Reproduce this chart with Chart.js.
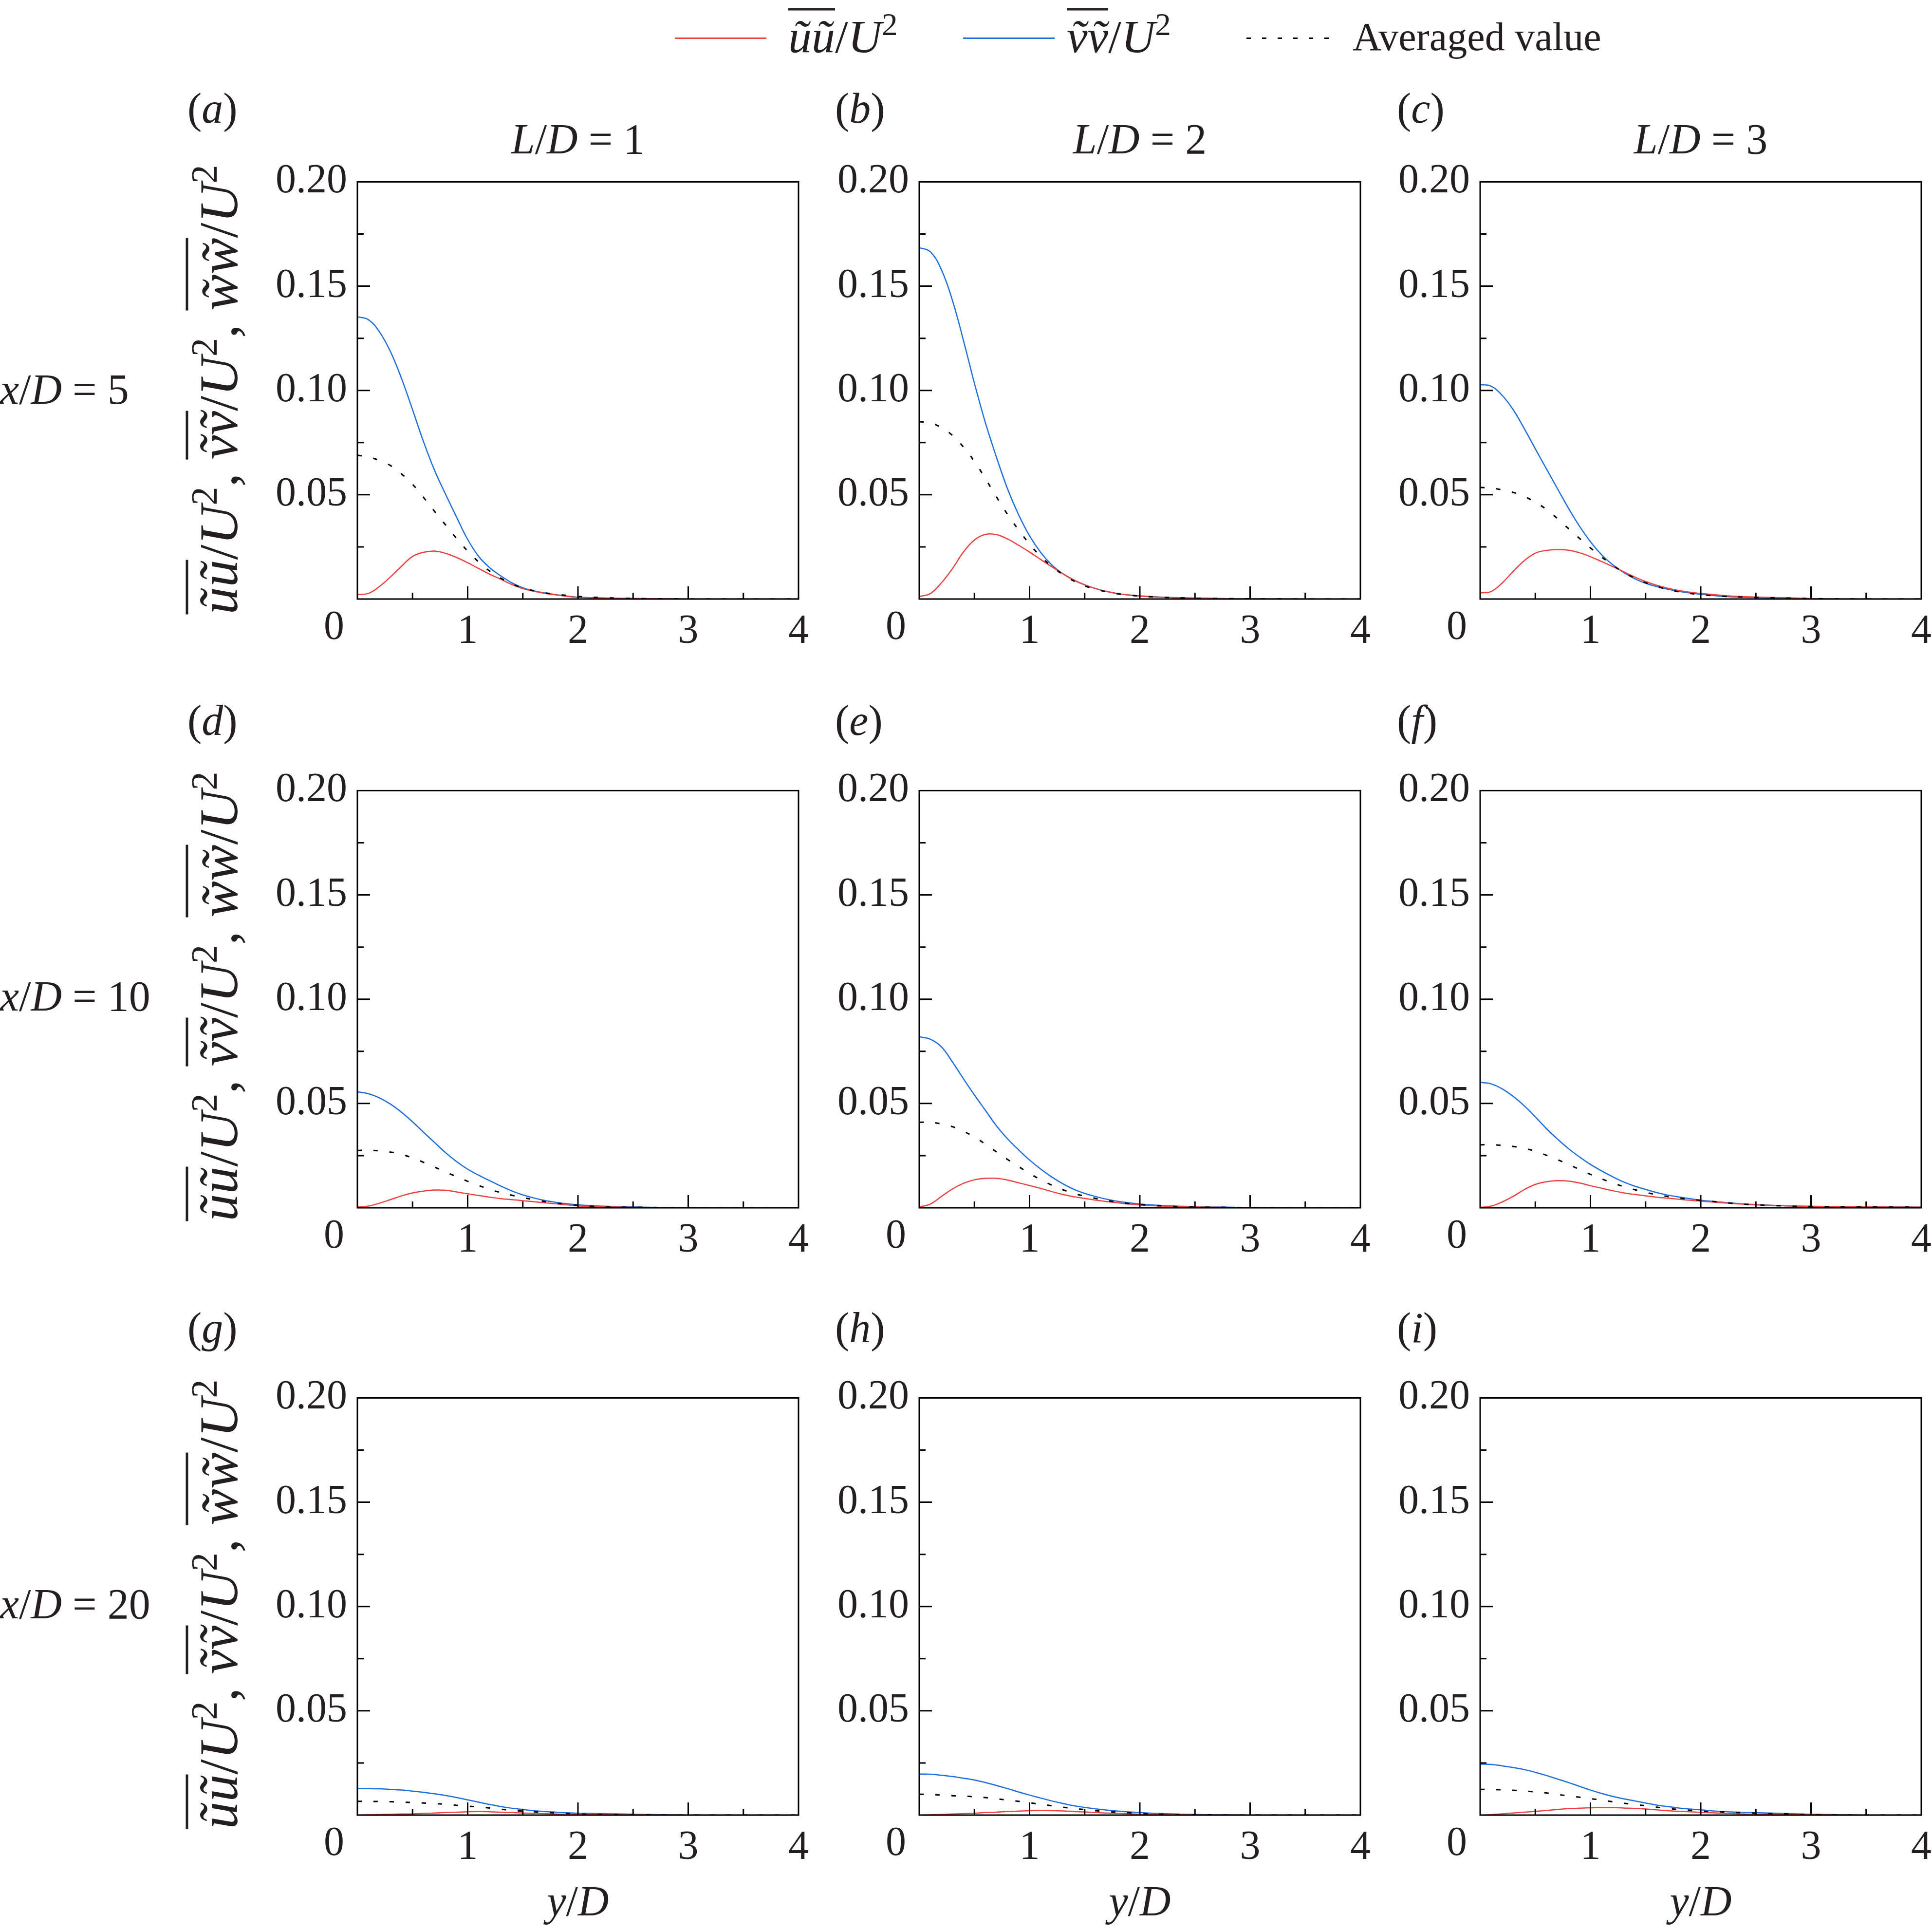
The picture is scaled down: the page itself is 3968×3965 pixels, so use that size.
<!DOCTYPE html>
<html>
<head>
<meta charset="utf-8">
<script src="https://cdn.jsdelivr.net/npm/chart.js@4.4.1/dist/chart.umd.min.js"></script>
<style>
  body { margin: 0; background: #fff; }
  #page { position: relative; width: 3968px; height: 3965px; overflow: hidden; background: #fff; }
  canvas { position: absolute; }
  .t { position: absolute; font-family: 'Liberation Serif', Tinos, 'Nimbus Roman', 'Nimbus Roman No9 L', FreeSerif, 'Noto Serif', 'DejaVu Serif', 'Times New Roman', Times, serif;
       font-size: 88px; color: #231f20; white-space: nowrap; line-height: 1; }
  .c { transform: translate(-50%, -50%); }
  .l { transform: translate(0, -50%); }
  .rot { transform: translate(-50%, -50%) rotate(-90deg); font-size: 112px; }
  .leg { font-size: 96px; }
  .avg { font-size: 82px; }
  .m i { font-style: italic; }
  .ov { display: inline-block; border-top: 5px solid #231f20; padding-top: 6px; font-style: italic; }
  .sup { font-size: 0.68em; position: relative; top: -0.55em; font-style: normal; }
  .line { position: absolute; height: 3px; }
</style>
</head>
<body>
<div id="page"></div>
<script>
// y/D positions shared by all profiles
const xs = [0, 0.1, 0.2, 0.3, 0.4, 0.5, 0.6, 0.7, 0.8, 0.9, 1.0, 1.1, 1.2, 1.3, 1.4, 1.5, 1.6, 1.7, 1.8, 1.9, 2.0, 2.2, 2.4, 2.6, 2.8, 3.0, 3.5, 4.0];

// (a) x/D=5, L/D=1
const uuA = [0.0021, 0.0027, 0.0060, 0.0106, 0.0157, 0.0204, 0.0224, 0.0230, 0.0219, 0.0199, 0.0174, 0.0146, 0.0119, 0.0095, 0.0070, 0.0050, 0.0037, 0.0027, 0.0020, 0.0013, 0.0008, 0.0005, 0.0003, 0.0002, 0.0001, 0, 0, 0];
const vvA = [0.1353, 0.1339, 0.1281, 0.1186, 0.1058, 0.0908, 0.0754, 0.0617, 0.0502, 0.0392, 0.0286, 0.0204, 0.0150, 0.0111, 0.0078, 0.0054, 0.0039, 0.0029, 0.0021, 0.0014, 0.0009, 0.0005, 0.0003, 0.0002, 0.0001, 0, 0, 0];
const avgA = [0.0690, 0.0680, 0.0665, 0.0640, 0.0600, 0.0550, 0.0487, 0.0420, 0.0355, 0.0290, 0.0230, 0.0177, 0.0134, 0.0100, 0.0073, 0.0053, 0.0040, 0.0030, 0.0023, 0.0017, 0.0012, 0.0007, 0.0004, 0.0002, 0.0001, 0, 0, 0];
// (b) x/D=5, L/D=2
const uuB = [0.0012, 0.0026, 0.0077, 0.0145, 0.0225, 0.0283, 0.0310, 0.0309, 0.0288, 0.0258, 0.0225, 0.0190, 0.0155, 0.0122, 0.0092, 0.0068, 0.0050, 0.0036, 0.0026, 0.0019, 0.0014, 0.0008, 0.0004, 0.0002, 0.0001, 0, 0, 0];
const vvB = [0.1685, 0.1665, 0.1580, 0.1433, 0.1241, 0.1035, 0.0845, 0.0680, 0.0529, 0.0405, 0.0303, 0.0224, 0.0164, 0.0122, 0.0091, 0.0068, 0.0050, 0.0036, 0.0026, 0.0019, 0.0015, 0.0009, 0.0006, 0.0004, 0.0002, 0.0001, 0, 0];
const avgB = [0.0850, 0.0845, 0.0822, 0.0785, 0.0729, 0.0660, 0.0577, 0.0490, 0.0406, 0.0332, 0.0264, 0.0205, 0.0158, 0.0118, 0.0087, 0.0063, 0.0047, 0.0034, 0.0025, 0.0019, 0.0014, 0.0008, 0.0005, 0.0003, 0.0002, 0.0001, 0, 0];
// (c) x/D=5, L/D=3
const uuC = [0.0029, 0.0036, 0.0077, 0.0133, 0.0184, 0.0220, 0.0233, 0.0237, 0.0234, 0.0222, 0.0203, 0.0180, 0.0156, 0.0131, 0.0106, 0.0084, 0.0066, 0.0052, 0.0041, 0.0033, 0.0027, 0.0017, 0.0011, 0.0008, 0.0006, 0.0002, 0, 0];
const vvC = [0.1028, 0.1020, 0.0976, 0.0907, 0.0817, 0.0720, 0.0625, 0.0530, 0.0436, 0.0350, 0.0275, 0.0213, 0.0165, 0.0128, 0.0098, 0.0076, 0.0060, 0.0047, 0.0037, 0.0029, 0.0023, 0.0013, 0.0008, 0.0005, 0.0004, 0.0002, 0, 0];
const avgC = [0.0535, 0.0532, 0.0523, 0.0511, 0.0492, 0.0464, 0.0430, 0.0386, 0.0338, 0.0291, 0.0245, 0.0202, 0.0163, 0.0128, 0.0101, 0.0078, 0.0061, 0.0046, 0.0035, 0.0027, 0.0021, 0.0013, 0.0009, 0.0006, 0.0004, 0.0002, 0, 0];
// (d) x/D=10, L/D=1
const uuD = [0.0004, 0.0008, 0.0022, 0.0039, 0.0057, 0.0071, 0.0080, 0.0085, 0.0084, 0.0076, 0.0067, 0.0059, 0.0051, 0.0044, 0.0039, 0.0034, 0.0029, 0.0024, 0.0019, 0.0014, 0.0009, 0.0005, 0.0003, 0.0002, 0.0001, 0, 0, 0];
const vvD = [0.0556, 0.0547, 0.0527, 0.0497, 0.0458, 0.0412, 0.0362, 0.0313, 0.0264, 0.0221, 0.0185, 0.0156, 0.0130, 0.0104, 0.0081, 0.0062, 0.0047, 0.0035, 0.0026, 0.0019, 0.0014, 0.0008, 0.0005, 0.0003, 0.0001, 0, 0, 0];
const avgD = [0.0275, 0.0276, 0.0273, 0.0267, 0.0256, 0.0239, 0.0218, 0.0195, 0.0172, 0.0149, 0.0127, 0.0107, 0.0088, 0.0073, 0.0060, 0.0049, 0.0039, 0.0030, 0.0023, 0.0017, 0.0012, 0.0006, 0.0003, 0.0002, 0.0001, 0, 0, 0];
// (e) x/D=10, L/D=2
const uuE = [0.0004, 0.0018, 0.0054, 0.0090, 0.0117, 0.0134, 0.0141, 0.0141, 0.0133, 0.0120, 0.0107, 0.0093, 0.0078, 0.0064, 0.0053, 0.0045, 0.0037, 0.0030, 0.0024, 0.0018, 0.0014, 0.0008, 0.0005, 0.0003, 0.0002, 0, 0, 0];
const vvE = [0.0820, 0.0808, 0.0772, 0.0700, 0.0619, 0.0541, 0.0467, 0.0393, 0.0331, 0.0278, 0.0229, 0.0186, 0.0148, 0.0116, 0.0089, 0.0069, 0.0054, 0.0041, 0.0031, 0.0024, 0.0018, 0.0011, 0.0007, 0.0004, 0.0003, 0.0001, 0, 0];
const avgE = [0.0410, 0.0410, 0.0402, 0.0389, 0.0367, 0.0339, 0.0305, 0.0268, 0.0232, 0.0198, 0.0165, 0.0135, 0.0109, 0.0087, 0.0069, 0.0056, 0.0045, 0.0035, 0.0027, 0.0020, 0.0015, 0.0009, 0.0005, 0.0003, 0.0002, 0.0001, 0, 0];
// (f) x/D=10, L/D=3
const uuF = [0.0002, 0.0008, 0.0028, 0.0055, 0.0087, 0.0112, 0.0125, 0.0130, 0.0128, 0.0119, 0.0106, 0.0094, 0.0082, 0.0072, 0.0064, 0.0057, 0.0051, 0.0046, 0.0041, 0.0036, 0.0032, 0.0024, 0.0017, 0.0012, 0.0009, 0.0007, 0.0004, 0.0003];
const vvF = [0.0601, 0.0594, 0.0570, 0.0534, 0.0489, 0.0436, 0.0380, 0.0330, 0.0284, 0.0244, 0.0208, 0.0177, 0.0149, 0.0124, 0.0104, 0.0088, 0.0073, 0.0061, 0.0052, 0.0044, 0.0036, 0.0026, 0.0018, 0.0013, 0.0009, 0.0007, 0.0005, 0.0003];
const avgF = [0.0302, 0.0302, 0.0299, 0.0294, 0.0285, 0.0271, 0.0252, 0.0231, 0.0208, 0.0184, 0.0160, 0.0139, 0.0119, 0.0102, 0.0087, 0.0074, 0.0063, 0.0054, 0.0047, 0.0041, 0.0036, 0.0026, 0.0017, 0.0012, 0.0008, 0.0006, 0.0004, 0.0003];
// (g) x/D=20, L/D=1
const uuG = [0, 0.0001, 0.0003, 0.0004, 0.0005, 0.0006, 0.0008, 0.0010, 0.0012, 0.0014, 0.0016, 0.0017, 0.0016, 0.0014, 0.0012, 0.0010, 0.0008, 0.0007, 0.0005, 0.0004, 0.0003, 0.0002, 0.0001, 0.0001, 0, 0, 0, 0];
const vvG = [0.0127, 0.0127, 0.0126, 0.0123, 0.0120, 0.0115, 0.0109, 0.0102, 0.0094, 0.0084, 0.0073, 0.0062, 0.0051, 0.0041, 0.0033, 0.0027, 0.0021, 0.0017, 0.0014, 0.0011, 0.0009, 0.0007, 0.0005, 0.0003, 0.0002, 0, 0, 0];
const avgG = [0.0066, 0.0066, 0.0065, 0.0064, 0.0062, 0.0060, 0.0058, 0.0055, 0.0052, 0.0047, 0.0043, 0.0039, 0.0034, 0.0028, 0.0023, 0.0019, 0.0016, 0.0013, 0.0010, 0.0008, 0.0005, 0.0003, 0.0002, 0.0001, 0, 0, 0, 0];
// (h) x/D=20, L/D=2
const uuH = [0, 0.0001, 0.0003, 0.0005, 0.0007, 0.0009, 0.0012, 0.0014, 0.0017, 0.0019, 0.0021, 0.0022, 0.0021, 0.0020, 0.0017, 0.0015, 0.0012, 0.0010, 0.0008, 0.0006, 0.0004, 0.0002, 0.0001, 0, 0, 0, 0, 0];
const vvH = [0.0197, 0.0196, 0.0191, 0.0185, 0.0177, 0.0168, 0.0156, 0.0142, 0.0127, 0.0111, 0.0096, 0.0082, 0.0068, 0.0056, 0.0045, 0.0037, 0.0030, 0.0024, 0.0019, 0.0015, 0.0012, 0.0007, 0.0004, 0.0002, 0.0001, 0, 0, 0];
const avgH = [0.0100, 0.0099, 0.0096, 0.0093, 0.0091, 0.0088, 0.0084, 0.0078, 0.0072, 0.0066, 0.0059, 0.0052, 0.0045, 0.0038, 0.0032, 0.0026, 0.0021, 0.0017, 0.0014, 0.0011, 0.0008, 0.0004, 0.0002, 0.0001, 0, 0, 0, 0];
// (i) x/D=20, L/D=3
const uuI = [0, 0.0002, 0.0006, 0.0010, 0.0014, 0.0018, 0.0022, 0.0027, 0.0031, 0.0033, 0.0035, 0.0036, 0.0036, 0.0034, 0.0032, 0.0029, 0.0025, 0.0021, 0.0018, 0.0016, 0.0013, 0.0009, 0.0005, 0.0004, 0.0003, 0.0002, 0, 0];
const vvI = [0.0244, 0.0243, 0.0236, 0.0228, 0.0218, 0.0205, 0.0190, 0.0173, 0.0156, 0.0138, 0.0120, 0.0104, 0.0090, 0.0078, 0.0068, 0.0058, 0.0048, 0.0041, 0.0034, 0.0029, 0.0025, 0.0017, 0.0013, 0.0010, 0.0007, 0.0004, 0, 0];
const avgI = [0.0123, 0.0123, 0.0121, 0.0119, 0.0115, 0.0111, 0.0106, 0.0099, 0.0092, 0.0086, 0.0079, 0.0072, 0.0064, 0.0057, 0.0051, 0.0045, 0.0038, 0.0032, 0.0027, 0.0023, 0.0019, 0.0015, 0.0011, 0.0008, 0.0005, 0.0002, 0, 0];

const panelLetters = ['a', 'b', 'c', 'd', 'e', 'f', 'g', 'h', 'i'];
const spacings = ['1', '2', '3'];          // L/D
const stations = ['5', '10', '20'];        // x/D
const yTicks = [0, 0.05, 0.10, 0.15, 0.20];
const xTicks = [0, 1, 2, 3, 4];

const panels = [
  [uuA, vvA, avgA], [uuB, vvB, avgB], [uuC, vvC, avgC],
  [uuD, vvD, avgD], [uuE, vvE, avgE], [uuF, vvF, avgF],
  [uuG, vvG, avgG], [uuH, vvH, avgH], [uuI, vvI, avgI]
];

const RED = '#ee4040';
const BLUE = '#1b6ee0';
const INK = '#231f20';
const FONT = "'Liberation Serif', Tinos, 'Nimbus Roman', 'Nimbus Roman No9 L', FreeSerif, 'Noto Serif', 'DejaVu Serif', 'Times New Roman', Times, serif";
const TICK_SIZE = 84;

// layout of the plot boxes (page pixels)
const colLeft = [734, 1888, 3040];
const rowTop = [362, 1612, 2859];
const plotW = 906, plotH = 868;
const padL = 200, padT = 60, padR = 60, padB = 140;

const page = document.getElementById('page');

function addText(html, cls, x, y) {
  const d = document.createElement('div');
  d.className = 't ' + cls;
  d.style.left = x + 'px';
  d.style.top = y + 'px';
  d.innerHTML = html;
  page.appendChild(d);
  return d;
}

function pts(arr) {
  return xs.map((x, i) => ({ x: x, y: arr[i] }));
}

// inward ticks, closed frame and the shared "0" at the corner
const frameTicks = {
  id: 'frameTicks',
  afterDraw(chart) {
    const ctx = chart.ctx;
    const a = chart.chartArea;
    const x = chart.scales.x, y = chart.scales.y;
    ctx.save();
    ctx.strokeStyle = '#000';
    ctx.lineWidth = 3;
    ctx.strokeRect(a.left, a.top, a.right - a.left, a.bottom - a.top);
    ctx.beginPath();
    for (let k = 1; k < 8; k++) {
      const py = y.getPixelForValue(k * 0.025);
      const len = k % 2 === 0 ? 26 : 13;
      ctx.moveTo(a.left, py);
      ctx.lineTo(a.left + len, py);
    }
    for (let k = 1; k < 8; k++) {
      const px = x.getPixelForValue(k * 0.5);
      const len = k % 2 === 0 ? 26 : 13;
      ctx.moveTo(px, a.bottom);
      ctx.lineTo(px, a.bottom - len);
    }
    ctx.stroke();
    ctx.fillStyle = INK;
    ctx.font = TICK_SIZE + 'px ' + FONT;
    ctx.textAlign = 'center';
    ctx.textBaseline = 'top';
    ctx.fillText('0', a.left - 48, a.bottom + 18);
    ctx.restore();
  }
};

function makePanel(idx) {
  const r = Math.floor(idx / 3), c = idx % 3;
  const cv = document.createElement('canvas');
  const w = padL + plotW + padR, h = padT + plotH + padB;
  cv.width = w; cv.height = h;
  cv.style.width = w + 'px'; cv.style.height = h + 'px';
  cv.style.left = (colLeft[c] - padL) + 'px';
  cv.style.top = (rowTop[r] - padT) + 'px';
  page.appendChild(cv);

  const set = panels[idx];
  new Chart(cv, {
    type: 'line',
    data: {
      datasets: [
        { label: 'avg', data: pts(set[2]), borderColor: '#000', borderWidth: 3, borderDash: [9, 24] },
        { label: 'uu', data: pts(set[0]), borderColor: RED, borderWidth: 2.5 },
        { label: 'vv', data: pts(set[1]), borderColor: BLUE, borderWidth: 2.5 }
      ]
    },
    options: {
      responsive: false,
      animation: false,
      devicePixelRatio: 1,
      layout: { padding: { top: padT, right: padR, left: 0, bottom: 0 } },
      elements: { point: { radius: 0 }, line: { tension: 0.4 } },
      plugins: { legend: { display: false }, tooltip: { enabled: false } },
      scales: {
        x: {
          type: 'linear', min: 0, max: 4,
          grid: { display: false, drawTicks: false },
          border: { display: false },
          afterBuildTicks: (s) => { s.ticks = xTicks.map(v => ({ value: v })); },
          afterFit: (s) => { s.height = padB; },
          ticks: {
            padding: 18, color: INK, font: { family: FONT, size: TICK_SIZE }, maxRotation: 0,
            callback: (v) => v === 0 ? '' : String(v)
          }
        },
        y: {
          type: 'linear', min: 0, max: 0.2,
          grid: { display: false, drawTicks: false },
          border: { display: false },
          afterBuildTicks: (s) => { s.ticks = yTicks.map(v => ({ value: v })); },
          afterFit: (s) => { s.width = padL; },
          ticks: {
            padding: 21, color: INK, font: { family: FONT, size: TICK_SIZE },
            callback: (v) => v === 0 ? '' : v.toFixed(2)
          }
        }
      }
    },
    plugins: [frameTicks]
  });
}

for (let i = 0; i < 9; i++) makePanel(i);

// legend
const legendY = 78;
function sample(x, w, style) {
  const d = document.createElement('div');
  d.className = 'line';
  d.style.left = x + 'px';
  d.style.top = (legendY - 1) + 'px';
  d.style.width = w + 'px';
  d.style.background = style;
  page.appendChild(d);
}
sample(1386, 188, RED);
addText('<span class="ov">ũũ</span>/<i>U</i><span class="sup">2</span>', 'l m leg', 1619, 70);
sample(1978, 188, BLUE);
addText('<span class="ov">ṽṽ</span>/<i>U</i><span class="sup">2</span>', 'l m leg', 2191, 70);
sample(2560, 188, 'repeating-linear-gradient(to right, #000 0 9px, transparent 9px 32px)');
addText('Averaged value', 'l avg', 2778, 76);

// panel letters, column titles, row labels, axis titles
const yTitle = '<span class="ov">ũũ</span>/<i>U</i><span class="sup">2</span>, ' +
  '<span class="ov">ṽṽ</span>/<i>U</i><span class="sup">2</span>, ' +
  '<span class="ov">w̃w̃</span>/<i>U</i><span class="sup">2</span>';
const letterLeft = [385, 1715, 2869];
const letterY = [223, 1480, 2727];
const rowMid = [800, 2046, 3294];
for (let r = 0; r < 3; r++) {
  for (let c = 0; c < 3; c++) {
    addText('(<i>' + panelLetters[r * 3 + c] + '</i>)', 'l', letterLeft[c], letterY[r]);
  }
  addText('<i>x</i>/<i>D</i> = ' + stations[r], 'l', 0, rowMid[r]);
  addText(yTitle, 'rot m', 443, rowMid[r]);
}
for (let c = 0; c < 3; c++) {
  const mid = colLeft[c] + plotW / 2;
  addText('<i>L</i>/<i>D</i> = ' + spacings[c], 'c', mid, 286);
  addText('<i>y</i>/<i>D</i>', 'c', mid, 3904);
}
</script>
</body>
</html>
